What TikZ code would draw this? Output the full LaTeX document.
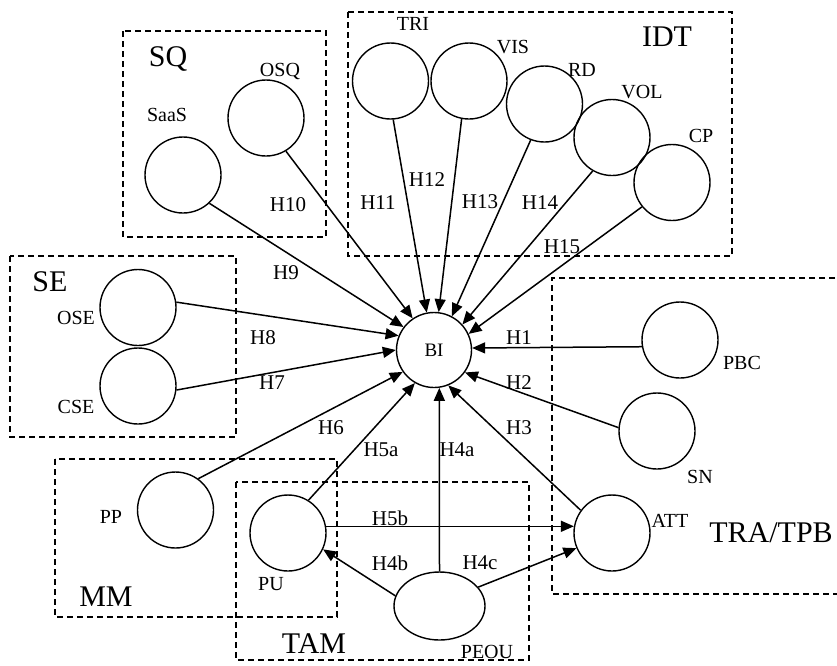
\documentclass[tikz,border=0pt]{standalone}
\usepackage{fontspec}
\setmainfont{Liberation Serif}
\usetikzlibrary{arrows.meta,shapes.geometric}
\begin{document}
\begin{tikzpicture}[x=1pt,y=-1pt,
 circ/.style={circle,draw,line width=1.4pt,minimum size=76pt,inner sep=0pt},
 ell/.style={ellipse,draw,line width=1.4pt,minimum width=91pt,minimum height=68pt,inner sep=0pt},
 lab/.style={font=\fontsize{20}{22}\selectfont,inner sep=0pt},
 hlab/.style={font=\fontsize{21}{24}\selectfont,inner sep=0pt},
 grp/.style={font=\fontsize{30}{34}\selectfont,inner sep=0pt},
 box/.style={draw,line width=1.1pt,dash pattern=on 6pt off 4pt},
 arr/.style={-{Triangle[length=13pt,width=11pt]},line width=1.5pt}]
\useasboundingbox (0,0) rectangle (837,665);
% group boxes
\draw[box] (123,31) rectangle (326,237);
\draw[box] (348,12) rectangle (732,256);
\draw[box] (10,256) rectangle (236,437);
\draw[box] (55,459) rectangle (337,617);
\draw[box] (236,482) rectangle (529,660);
\draw[box] (845,278) -- (552,278) -- (552,594) -- (845,594);
% group labels
\node[grp] (gSQ) at (168,59) {SQ};
\node[grp] (gIDT) at (667,37) {IDT};
\node[grp] (gSE) at (50,282) {SE};
\node[grp] (gMM) at (106,597) {MM};
\node[grp] (gTAM) at (314,644) {TAM};
\node[grp] (gTRA) at (771,533) {TRA/TPB};
% constructs
\node[circ] (SaaS) at (183,175) {};
\node[circ] (OSQ) at (266,118) {};
\node[circ] (OSE) at (138,307.5) {};
\node[circ] (CSE) at (138,386) {};
\node[circ] (TRI) at (390.5,81) {};
\node[circ] (VIS) at (469,81) {};
\node[circ] (RD) at (544.5,104) {};
\node[circ] (VOL) at (612,137.5) {};
\node[circ] (CP) at (672,182.5) {};
\node[circ,minimum size=75pt,font=\fontsize{19}{20}\selectfont] (BI) at (434,350) {BI};
\node[circ] (PBC) at (680,340) {};
\node[circ] (SN) at (657,431) {};
\node[circ] (ATT) at (612,533) {};
\node[circ] (PP) at (175.5,510) {};
\node[circ] (PU) at (288,533) {};
\node[ell] (PEOU) at (439.5,606) {};
% construct labels
\node[lab] (lSaaS) at (167,115) {SaaS};
\node[lab] (lOSQ) at (280,71) {OSQ};
\node[lab] (lOSE) at (76,318) {OSE};
\node[lab] (lCSE) at (76,407) {CSE};
\node[lab] (lTRI) at (413,24) {TRI};
\node[lab] (lVIS) at (513,47) {VIS};
\node[lab] (lRD) at (582,70) {RD};
\node[lab] (lVOL) at (642,92) {VOL};
\node[lab] (lCP) at (701,136) {CP};
\node[lab] (lPBC) at (742,363) {PBC};
\node[lab] (lSN) at (700,477) {SN};
\node[lab] (lATT) at (670,521) {ATT};
\node[lab] (lPP) at (111,517) {PP};
\node[lab] (lPU) at (271,584) {PU};
\node[lab] (lPEOU) at (487,652) {PEOU};
% arrows
\draw[arr] (PBC.190) -- (BI.3);
\draw[arr] (SN.175) -- (BI.-36);
\draw[arr] (ATT.144) -- (BI.-68);
\draw[arr] (PEOU.north) -- (BI.-82);
\draw[arr] (PEOU.167) -- (PU.-25);
\draw[arr] (PEOU.26) -- (ATT.203);
\draw[arr] (PU.58) -- (BI.240);
\draw[arr] (PU.10) -- (ATT.170);
\draw[arr] (PP.54) -- (BI.215);
\draw[arr] (CSE.-6) -- (BI.180);
\draw[arr] (OSE.8) -- (BI.158);
\draw[arr] (SaaS.-47) -- (BI.143);
\draw[arr] (OSQ.-59) -- (BI.124);
\draw[arr] (TRI.-86) -- (BI.101);
\draw[arr] (VIS.-101) -- (BI.83);
\draw[arr] (RD.-111) -- (BI.62);
\draw[arr] (VOL.240) -- (BI.42);
\draw[arr] (CP.219) -- (BI.25);
% hypothesis labels
\node[hlab] (h1) at (519,338) {H1};
\node[hlab] (h2) at (519,383) {H2};
\node[hlab] (h3) at (519,428) {H3};
\node[hlab] (h4a) at (457,450) {H4a};
\node[hlab] (h4b) at (390,563) {H4b};
\node[hlab] (h4c) at (480,563) {H4c};
\node[hlab] (h5a) at (381,450) {H5a};
\node[hlab] (h5b) at (390,518) {H5b};
\node[hlab] (h6) at (331,428) {H6};
\node[hlab] (h7) at (272,383) {H7};
\node[hlab] (h8) at (263,338) {H8};
\node[hlab] (h9) at (286,273) {H9};
\node[hlab] (h10) at (288,205) {H10};
\node[hlab] (h11) at (378,203) {H11};
\node[hlab] (h12) at (427,180) {H12};
\node[hlab] (h13) at (480,202) {H13};
\node[hlab] (h14) at (540,203) {H14};
\node[hlab] (h15) at (562,247) {H15};
\end{tikzpicture}
\end{document}
